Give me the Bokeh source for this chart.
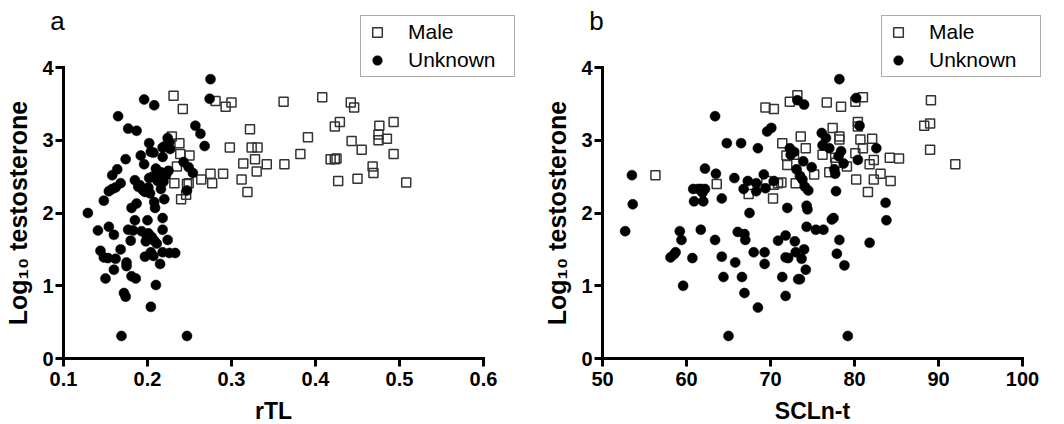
import math
from bokeh.plotting import figure
from bokeh.models import Range1d, FixedTicker, Legend, LegendItem, Label, ColumnDataSource
from bokeh.layouts import row
from bokeh.embed import file_html
from bokeh.resources import INLINE

FONT = "Liberation Sans"

# ---------------- data ----------------
# panel a: rTL vs log10 testosterone
a_male = [
    (0.231, 3.61), (0.242, 3.43), (0.281, 3.54), (0.293, 3.46), (0.300, 3.52),
    (0.362, 3.53), (0.408, 3.59), (0.442, 3.52), (0.446, 3.45), (0.322, 3.15),
    (0.429, 3.25), (0.423, 3.19), (0.476, 3.20), (0.493, 3.25), (0.475, 3.08),
    (0.475, 3.00), (0.485, 3.02), (0.443, 2.99), (0.391, 3.04), (0.229, 3.05),
    (0.238, 2.96), (0.239, 2.81), (0.250, 2.79), (0.298, 2.90), (0.324, 2.90),
    (0.331, 2.90), (0.328, 2.74), (0.455, 2.87), (0.382, 2.81), (0.493, 2.81),
    (0.314, 2.68), (0.342, 2.67), (0.363, 2.67), (0.418, 2.74), (0.423, 2.74),
    (0.425, 2.75), (0.235, 2.64), (0.468, 2.64), (0.469, 2.55), (0.330, 2.57),
    (0.275, 2.54), (0.290, 2.54), (0.264, 2.46), (0.312, 2.46), (0.450, 2.47),
    (0.232, 2.41), (0.277, 2.41), (0.249, 2.41), (0.427, 2.44), (0.508, 2.42),
    (0.319, 2.29), (0.240, 2.19), (0.246, 2.25), (0.247, 2.40),
]
a_unknown = [
    (0.275, 3.84), (0.274, 3.57), (0.196, 3.56), (0.208, 3.48), (0.165, 3.33),
    (0.177, 3.16), (0.187, 3.13), (0.257, 3.20), (0.263, 3.09), (0.268, 2.92),
    (0.224, 3.03), (0.202, 2.96), (0.221, 2.92), (0.227, 2.88), (0.218, 2.90),
    (0.192, 2.79), (0.204, 2.84), (0.207, 2.83), (0.174, 2.74), (0.218, 2.77),
    (0.196, 2.67), (0.243, 2.70), (0.249, 2.63), (0.254, 2.55), (0.164, 2.60),
    (0.158, 2.52), (0.210, 2.61), (0.213, 2.54), (0.202, 2.48), (0.225, 2.58),
    (0.168, 2.41), (0.162, 2.35), (0.158, 2.33), (0.154, 2.30), (0.185, 2.45),
    (0.191, 2.38), (0.219, 2.43), (0.148, 2.17), (0.194, 2.32), (0.199, 2.32),
    (0.201, 2.35), (0.216, 2.33), (0.247, 2.31), (0.220, 2.19), (0.208, 2.15),
    (0.187, 2.13), (0.181, 2.07), (0.209, 2.07), (0.129, 2.00), (0.185, 1.90),
    (0.200, 1.90), (0.218, 1.93), (0.141, 1.76), (0.154, 1.81), (0.160, 1.70),
    (0.177, 1.77), (0.183, 1.76), (0.193, 1.75), (0.199, 1.69), (0.205, 1.67),
    (0.208, 1.62), (0.218, 1.77), (0.180, 1.62), (0.198, 1.61), (0.224, 1.63),
    (0.144, 1.48), (0.148, 1.39), (0.153, 1.38), (0.168, 1.50), (0.197, 1.40),
    (0.204, 1.46), (0.218, 1.46), (0.226, 1.45), (0.162, 1.37), (0.175, 1.32),
    (0.175, 1.27), (0.215, 1.30), (0.160, 1.22), (0.150, 1.10), (0.181, 1.13),
    (0.186, 1.10), (0.210, 1.01), (0.172, 0.90), (0.174, 0.85), (0.204, 0.71),
    (0.169, 0.31), (0.247, 0.31), (0.206, 2.50), (0.212, 2.44), (0.197, 2.29),
    (0.203, 2.27), (0.216, 2.56), (0.222, 2.52), (0.201, 1.72), (0.211, 1.58),
    (0.189, 2.36), (0.226, 2.98), (0.233, 1.45), (0.207, 1.41),
]

# panel b: SCLn-t vs log10 testosterone
b_male = [
    (56.3, 2.52), (63.6, 2.40), (67.4, 2.26), (69.4, 3.45), (70.4, 3.43),
    (70.3, 2.20), (69.5, 2.44), (70.4, 2.39), (70.9, 2.41), (71.3, 2.42),
    (71.4, 2.96), (71.9, 2.79), (72.0, 2.66), (72.3, 3.53), (73.2, 3.62),
    (73.6, 3.05), (73.0, 2.41), (72.8, 2.80), (74.2, 2.89), (75.2, 2.53),
    (76.2, 2.80), (76.7, 3.52), (77.4, 3.17), (77.0, 2.56), (77.7, 2.76),
    (77.8, 2.69), (78.4, 3.46), (78.2, 3.05), (78.2, 3.01), (79.1, 2.64),
    (80.1, 3.53), (81.0, 3.59), (80.4, 3.25), (80.4, 3.19), (80.1, 2.82),
    (80.2, 2.46), (80.7, 3.01), (81.0, 2.89), (81.6, 2.29), (81.8, 2.67),
    (82.1, 3.02), (82.3, 2.46), (82.3, 2.73), (83.1, 2.54), (84.2, 2.76),
    (84.3, 2.44), (85.3, 2.75), (88.3, 3.20), (89.0, 3.23), (89.1, 3.55),
    (89.0, 2.87), (92.0, 2.67),
]
b_unknown = [
    (52.7, 1.75), (53.5, 2.52), (53.6, 2.12), (58.1, 1.39), (58.5, 1.43),
    (58.7, 1.46), (59.2, 1.75), (59.4, 1.63), (59.6, 1.00), (60.7, 1.38),
    (60.8, 2.33), (60.9, 2.16), (61.4, 2.33), (61.7, 2.33), (61.9, 2.28),
    (62.0, 2.16), (61.7, 1.77), (62.2, 2.33), (62.2, 2.61), (63.4, 3.33),
    (63.5, 2.54), (63.4, 1.63), (64.2, 2.20), (64.2, 1.40), (64.4, 1.12),
    (64.8, 2.96), (65.0, 0.31), (65.7, 2.48), (65.8, 1.32), (66.1, 1.74),
    (66.5, 2.96), (66.6, 1.12), (66.8, 2.33), (66.9, 1.71), (67.0, 1.63),
    (66.9, 0.90), (67.3, 2.44), (67.5, 2.00), (68.0, 1.46), (68.3, 2.30),
    (68.3, 2.41), (68.5, 2.89), (68.5, 0.70), (69.2, 2.53), (69.3, 1.46),
    (69.3, 1.30), (69.4, 2.34), (69.6, 3.12), (70.1, 3.17), (70.4, 2.44),
    (70.9, 1.62), (71.4, 1.12), (71.8, 1.69), (71.8, 1.39), (71.8, 0.86),
    (72.0, 2.07), (72.1, 1.38), (72.3, 2.89), (72.4, 2.80), (72.8, 2.84),
    (72.9, 1.61), (73.0, 1.46), (73.1, 2.60), (73.2, 3.55), (73.3, 1.09),
    (73.5, 1.09), (73.5, 2.51), (73.7, 1.37), (73.8, 2.46), (73.9, 2.71),
    (74.0, 3.49), (74.0, 1.50), (74.1, 2.36), (74.2, 1.22), (74.3, 2.10),
    (74.4, 2.05), (74.3, 1.81), (74.5, 2.31), (74.9, 2.63), (75.4, 1.77),
    (76.1, 3.10), (76.2, 2.93), (76.3, 1.77), (76.6, 3.03), (77.0, 2.89),
    (77.3, 1.91), (77.5, 1.93), (77.6, 2.60), (77.7, 2.54), (77.8, 2.30),
    (77.9, 1.44), (78.1, 2.78), (78.2, 3.84), (78.2, 1.63), (78.4, 2.85),
    (78.7, 2.68), (78.8, 1.28), (79.2, 0.31), (80.2, 3.58), (80.4, 2.73),
    (80.6, 3.20), (81.8, 1.59), (82.6, 2.89), (83.7, 2.14), (83.8, 1.90),
]

panel_letters = ["a", "b"]
x_titles = ["rTL", "SCLn-t"]
y_title = "Log\u2081\u2080 testosterone"
a_xticks = [0.1, 0.2, 0.3, 0.4, 0.5, 0.6]
b_xticks = [50, 60, 70, 80, 90, 100]
y_ticks = [0, 1, 2, 3, 4]
legend_labels = ["Male", "Unknown"]

# ---------------- layout (pixels) ----------------
FIG_W, FIG_H = 532, 424
AXIS_TOP, AXIS_BOTTOM = 67, 358      # y pixel of top tick and of the x axis
AXIS_LEN_X = 420


def make_panel(letter, male, unknown, xticks, xtitle, axis_left, legend_dx, legend_lw):
    x0, x1 = xticks[0], xticks[-1]
    ppx = AXIS_LEN_X / (x1 - x0)
    ppy = (AXIS_BOTTOM - AXIS_TOP) / (y_ticks[-1] - y_ticks[0])
    xr = Range1d(x0 - axis_left / ppx, x0 + (FIG_W - axis_left) / ppx)
    yr = Range1d(y_ticks[0] - (FIG_H - AXIS_BOTTOM) / ppy, y_ticks[-1] + AXIS_TOP / ppy)

    p = figure(width=FIG_W, height=FIG_H, x_range=xr, y_range=yr,
               output_backend="svg", toolbar_location=None,
               min_border=0, min_border_left=0, min_border_right=0,
               min_border_top=0, min_border_bottom=0)
    p.outline_line_color = None
    p.grid.visible = False
    p.background_fill_color = "white"
    p.border_fill_color = "white"

    ms = ColumnDataSource(dict(x=[v[0] for v in male], y=[v[1] for v in male]))
    us = ColumnDataSource(dict(x=[v[0] for v in unknown], y=[v[1] for v in unknown]))
    rm = p.scatter("x", "y", source=ms, marker="square", size=9,
                   fill_color=None, line_color="#333333", line_width=1.5)
    ru = p.scatter("x", "y", source=us, marker="circle", size=10,
                   fill_color="black", line_color="black", line_width=0.5)

    p.xaxis.ticker = FixedTicker(ticks=xticks)
    p.yaxis.ticker = FixedTicker(ticks=y_ticks)
    p.xaxis.bounds = (x0, x1)
    p.yaxis.bounds = (y_ticks[0], y_ticks[-1])
    p.xaxis.fixed_location = y_ticks[0]
    p.yaxis.fixed_location = x0
    for ax in (p.xaxis[0], p.yaxis[0]):
        ax.axis_line_width = 3
        ax.axis_line_color = "black"
        ax.axis_line_cap = "square"
        ax.major_tick_line_width = 3
        ax.major_tick_line_color = "black"
        ax.major_tick_out = 8
        ax.major_tick_in = 0
        ax.minor_tick_line_color = None
        ax.major_label_text_font = FONT
        ax.major_label_text_font_style = "bold"
        ax.major_label_text_font_size = "20px"
        ax.major_label_text_color = "black"
    p.xaxis.major_label_standoff = 5
    p.yaxis.major_label_standoff = 2

    legend = Legend(
        items=[LegendItem(label=legend_labels[0], renderers=[rm]),
               LegendItem(label=legend_labels[1], renderers=[ru])],
        location=(axis_left + legend_dx, FIG_H - 77), orientation="vertical",
        padding=4, spacing=4, margin=0,
        glyph_width=24, glyph_height=24, label_standoff=19,
        label_width=legend_lw, label_height=24,
        label_text_font=FONT, label_text_font_size="21px", label_text_color="black",
        border_line_color="#555555", border_line_width=1,
        background_fill_color="white", background_fill_alpha=1.0)
    p.add_layout(legend, "center")

    # panel letter (vertical middle at ~20 px from the top)
    p.add_layout(Label(x=axis_left - 6, y=FIG_H - 20, x_units="screen", y_units="screen",
                       text=letter, text_font=FONT, text_font_size="26px", text_color="black",
                       text_align="center", text_baseline="middle"))
    # y axis title, rotated
    p.add_layout(Label(x=axis_left - 46, y=FIG_H - (AXIS_TOP + AXIS_BOTTOM) / 2,
                       x_units="screen", y_units="screen", text=y_title,
                       angle=math.pi / 2, angle_units="rad",
                       text_font=FONT, text_font_size="25px", text_font_style="bold",
                       text_color="black", text_align="center", text_baseline="middle"))
    # x axis title
    p.add_layout(Label(x=axis_left + AXIS_LEN_X / 2, y=FIG_H - 410,
                       x_units="screen", y_units="screen", text=xtitle,
                       text_font=FONT, text_font_size="23px", text_font_style="bold",
                       text_color="black", text_align="center", text_baseline="middle"))
    return p


pa = make_panel(panel_letters[0], a_male, a_unknown, a_xticks, x_titles[0], 63, 297, 102)
pb = make_panel(panel_letters[1], b_male, b_unknown, b_xticks, x_titles[1], 70, 279, 107)

layout = row(pa, pb)
open("out.html", "w").write(file_html(layout, INLINE))
